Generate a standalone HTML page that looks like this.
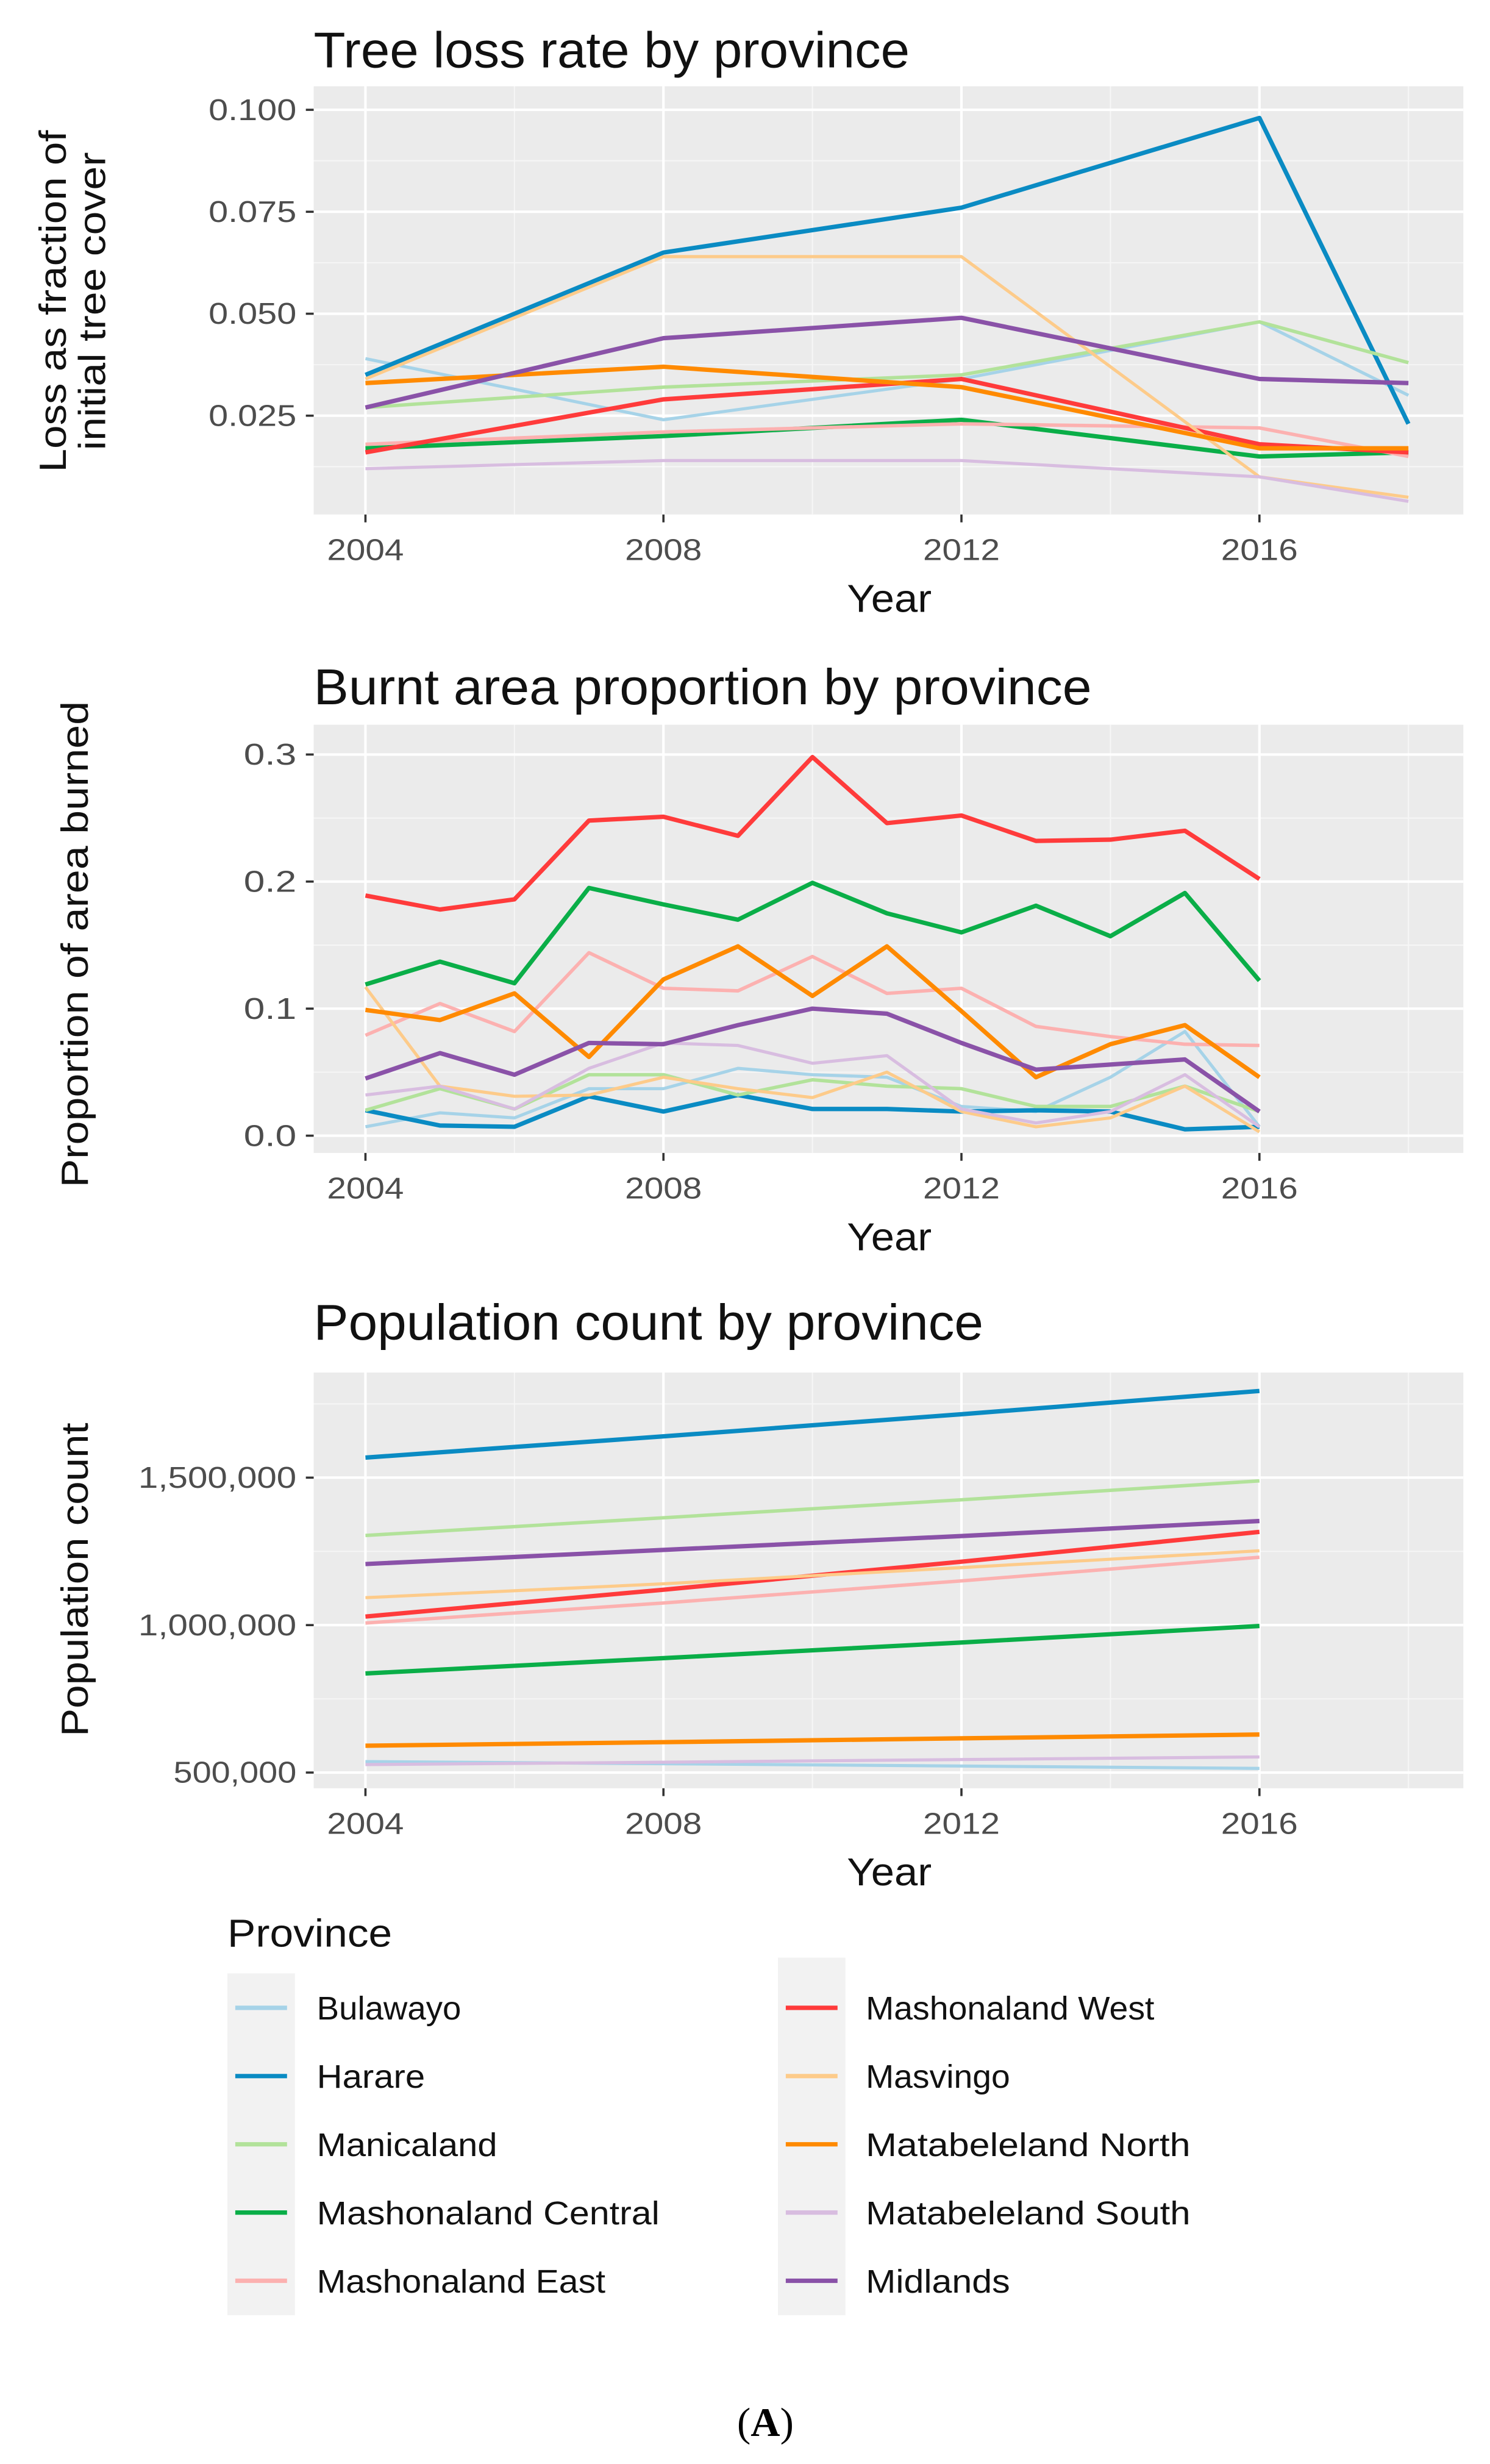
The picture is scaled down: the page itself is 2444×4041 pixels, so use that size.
<!DOCTYPE html>
<html><head><meta charset="utf-8">
<style>
html,body{margin:0;padding:0;background:#fff;}
svg{display:block;}
text{font-family:"Liberation Sans",sans-serif;}
</style></head>
<body>
<svg id="chart" width="2444" height="4041" viewBox="0 0 950 1570.8" xmlns="http://www.w3.org/2000/svg">
<g id="root"></g>
</svg>
<script>
const provinces = ["Bulawayo","Harare","Manicaland","Mashonaland Central","Mashonaland East","Mashonaland West","Masvingo","Matabeleland North","Matabeleland South","Midlands"];
const colors = ["#a6d3e8","#0a8bc3","#b2e29a","#0aae48","#fcb1b0","#ff3b3b","#fdcb8a","#ff8a00","#d8bde0","#8a52a8"];
const widths = [2,2.8,2.2,2.8,2.2,2.8,2,2.8,2,2.8];

const lossYears = [2004,2008,2012,2016,2018];
const lossValues = [
 [0.039,0.024,0.034,0.048,0.030],
 [0.035,0.065,0.076,0.098,0.023],
 [0.027,0.032,0.035,0.048,0.038],
 [0.017,0.020,0.024,0.015,0.016],
 [0.018,0.021,0.023,0.022,0.015],
 [0.016,0.029,0.034,0.018,0.016],
 [0.034,0.064,0.064,0.010,0.005],
 [0.033,0.037,0.032,0.017,0.017],
 [0.012,0.014,0.014,0.010,0.004],
 [0.027,0.044,0.049,0.034,0.033]
];
const lossTicks = [0.025,0.050,0.075,0.100];
const lossTickLabels = ["0.025","0.050","0.075","0.100"];

const burnYears = [2004,2005,2006,2007,2008,2009,2010,2011,2012,2013,2014,2015,2016];
const burnValues = [
 [.007,.018,.014,.037,.037,.053,.048,.046,.023,.019,.046,.082,.007],
 [.020,.008,.007,.031,.019,.032,.021,.021,.019,.020,.019,.005,.007],
 [.020,.037,.021,.048,.048,.032,.044,.039,.037,.023,.023,.039,.019],
 [.119,.137,.120,.195,.182,.170,.199,.175,.160,.181,.157,.191,.122],
 [.079,.104,.082,.144,.116,.114,.141,.112,.116,.086,.078,.072,.071],
 [.189,.178,.186,.248,.251,.236,.298,.246,.252,.232,.233,.240,.202],
 [.117,.039,.031,.032,.046,.037,.030,.050,.019,.007,.014,.039,.003],
 [.099,.091,.112,.062,.123,.149,.110,.149,.098,.046,.072,.087,.046],
 [.032,.039,.021,.053,.073,.071,.057,.063,.021,.010,.019,.048,.007],
 [.045,.065,.048,.073,.072,.087,.100,.096,.073,.052,.056,.060,.019]
];
const burnTicks = [0.0,0.1,0.2,0.3];
const burnTickLabels = ["0.0","0.1","0.2","0.3"];

const popYears = [2004,2008,2012,2016];
const popValues = [
 [537000,530000,522000,514000],
 [1568000,1640000,1715000,1794000],
 [1304000,1364000,1425000,1489000],
 [836000,888000,941000,997000],
 [1007000,1075000,1150000,1230000],
 [1029000,1120000,1215000,1316000],
 [1093000,1140000,1195000,1252000],
 [591000,603000,616000,629000],
 [527000,535000,544000,553000],
 [1207000,1255000,1302000,1353000]
];
const popTicks = [500000,1000000,1500000];
const popTickLabels = ["500,000","1,000,000","1,500,000"];

const xTicks = [2004,2008,2012,2016];
const xTickLabels = ["2004","2008","2012","2016"];

const NS = "http://www.w3.org/2000/svg";
const root = document.getElementById('root');
function mk(tag, attrs, parent, txt){
  const e = document.createElementNS(NS, tag);
  for (const k in attrs) e.setAttribute(k, attrs[k]);
  if (txt !== undefined) e.textContent = txt;
  (parent || root).appendChild(e);
  return e;
}
const xScale = yr => 233 + (yr - 2004) * 47.5;

function panel(cfg){
  const g = mk('g', {});
  
  
  const t = mk('text', {x:200, y:cfg.titleY, 'font-size':32, fill:'#111', 'textLength':cfg.titleLen, 'lengthAdjust':'spacingAndGlyphs'}, g, cfg.title);
  
  
  const bg = mk('rect', {x:200, y:cfg.top, width:733, height:cfg.bottom-cfg.top, fill:'#ebebeb'}, g);
  
  
  cfg.minorY.forEach(v => mk('line', {x1:200, x2:933, y1:cfg.y(v), y2:cfg.y(v), stroke:'#f6f6f6', 'stroke-width':0.8}, g));
  [2006,2010,2014,2018].forEach(v => mk('line', {x1:xScale(v), x2:xScale(v), y1:cfg.top, y2:cfg.bottom, stroke:'#f6f6f6', 'stroke-width':0.8}, g));
  cfg.ticks.forEach((v,i) => {
    const y = cfg.y(v);
    mk('line', {x1:200, x2:933, y1:y, y2:y, stroke:'#fff', 'stroke-width':1.6}, g);
    mk('line', {x1:195, x2:200, y1:y, y2:y, stroke:'#333', 'stroke-width':1.4}, g);
    const lab = mk('text', {x:189, y:y+6.5, 'font-size':19, fill:'#4d4d4d', 'text-anchor':'end', 'textLength':cfg.tickLabels[i].length*11.2, 'lengthAdjust':'spacingAndGlyphs'}, g, cfg.tickLabels[i]);
    
    
  });
  xTicks.forEach((v,i) => {
    const x = xScale(v);
    mk('line', {x1:x, x2:x, y1:cfg.top, y2:cfg.bottom, stroke:'#fff', 'stroke-width':1.6}, g);
    mk('line', {x1:x, x2:x, y1:cfg.bottom, y2:cfg.bottom+5, stroke:'#333', 'stroke-width':1.4}, g);
    const lab = mk('text', {x:x, y:cfg.bottom+29, 'font-size':19, fill:'#4d4d4d', 'text-anchor':'middle', 'textLength':49, 'lengthAdjust':'spacingAndGlyphs'}, g, xTickLabels[i]);
    
    
  });
  cfg.values.forEach((arr, si) => {
    const pts = arr.map((v,i) => xScale(cfg.years[i]).toFixed(2) + ',' + cfg.y(v).toFixed(2)).join(' ');
    const pl = mk('polyline', {points:pts, fill:'none', stroke:colors[si], 'stroke-width':widths[si], 'stroke-linejoin':'round'}, g);
    
    
  });
  const xt = mk('text', {x:567, y:cfg.bottom+62, 'font-size':25, fill:'#111', 'text-anchor':'middle', 'textLength':54, 'lengthAdjust':'spacingAndGlyphs'}, g, 'Year');
  
  
  const yt = mk('g', {transform:'translate(' + cfg.ytx + ',' + cfg.ytY + ') rotate(-90)'}, g);
  
  
  cfg.ytitle.forEach((s,i) => mk('text', {x:0, y:i*25, 'font-size':24, fill:'#111', 'text-anchor':'middle', 'textLength':cfg.ytLens[i], 'lengthAdjust':'spacingAndGlyphs'}, yt, s));
}

panel({name:'tree-loss-panel', title:'Tree loss rate by province', titleY:43, top:55, bottom:328, titleLen:380,
  y: v => 330 - v*2600, ticks:lossTicks, tickLabels:lossTickLabels, minorY:[0.0125,0.0375,0.0625,0.0875],
  years:lossYears, values:lossValues, ytx:42, ytY:192, ytitle:['Loss as fraction of','initial tree cover'], ytLens:[218,190]});
panel({name:'burnt-area-panel', title:'Burnt area proportion by province', titleY:449, top:462, bottom:735, titleLen:496,
  y: v => 724 - v*810, ticks:burnTicks, tickLabels:burnTickLabels, minorY:[0.05,0.15,0.25],
  years:burnYears, values:burnValues, ytx:56, ytY:602, ytitle:['Proportion of area burned'], ytLens:[310]});
panel({name:'population-panel', title:'Population count by province', titleY:854, top:875, bottom:1140, titleLen:427,
  y: v => 1130 - (v-500000)/500000*94, ticks:popTicks, tickLabels:popTickLabels, minorY:[750000,1250000,1750000],
  years:popYears, values:popValues, ytx:56, ytY:1007, ytitle:['Population count'], ytLens:[200]});

const lg = mk('g', {});


const lt = mk('text', {x:145, y:1241, 'font-size':25, fill:'#111', 'textLength':105, 'lengthAdjust':'spacingAndGlyphs'}, lg, 'Province');


mk('rect', {x:145, y:1258, width:43, height:218, fill:'#f2f2f2'}, lg);
mk('rect', {x:496, y:1248, width:43, height:228, fill:'#f2f2f2'}, lg);
const rowsY = [1280,1323.5,1367,1410.5,1454];
provinces.forEach((p, i) => {
  const col = i < 5 ? 0 : 1;
  const y = rowsY[i % 5];
  const kx = col ? 496 : 145;
  const tx = col ? 552 : 202;
  const e = mk('g', {}, lg);
  
  
  mk('line', {x1:kx+5, x2:kx+38, y1:y, y2:y, stroke:colors[i], 'stroke-width':2.8}, e);
  mk('text', {x:tx, y:y+7.5, 'font-size':21, fill:'#111', 'textLength':p.length*11.5, 'lengthAdjust':'spacingAndGlyphs'}, e, p);
});
const cap = mk('text', {x:488, y:1553, 'font-size':26, fill:'#000', 'text-anchor':'middle', style:'font-family:"Liberation Serif",serif'});


cap.innerHTML = '(<tspan font-weight="bold">A</tspan>)';
</script>
</body></html>
